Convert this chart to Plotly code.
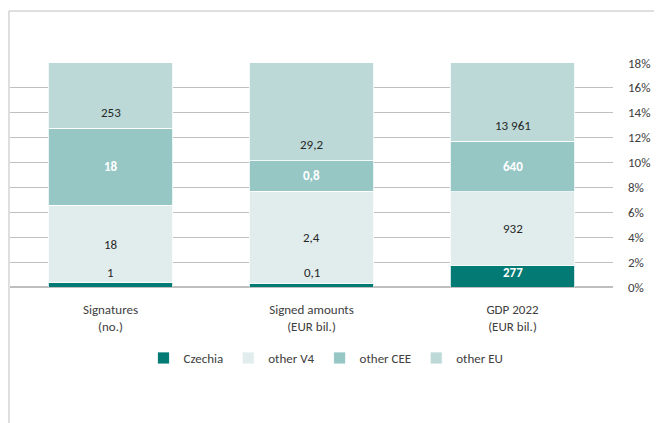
import plotly.graph_objects as go

categories = ["Signatures<br>(no.)", "Signed amounts<br>(EUR bil.)", "GDP 2022<br>(EUR bil.)"]
series_names = ["Czechia", "other V4", "other CEE", "other EU"]
czechia = [1, 0.1, 277]
other_v4 = [18, 2.4, 932]
other_cee = [18, 0.8, 640]
other_eu = [253, 29.2, 13961]
decimals = [0, 1, 0]
y_ticks = [0, 2, 4, 6, 8, 10, 12, 14, 16, 18]
y_tick_labels = [f"{v}%" for v in y_ticks]

colors = ["#047A75", "#E0EDEC", "#96C7C5", "#BDD9D7"]
label_colors = ["#262626", "#262626", "#FFFFFF", "#262626"]
label_bold = [False, False, True, False]

series = [czechia, other_v4, other_cee, other_eu]
totals = [sum(s[i] for s in series) for i in range(len(categories))]
shares = [[s[i] / totals[i] * 100 for i in range(len(categories))] for s in series]

FONT = "Carlito, Lato, Arial"
YMAX = 18


def fmt(v, d):
    if d == 0:
        return f"{int(round(v)):,}".replace(",", " ")
    return f"{v:.{d}f}".replace(".", ",")


fig = go.Figure()
for k, name in enumerate(series_names):
    fig.add_trace(go.Bar(
        x=categories, y=shares[k], name=name,
        marker=dict(color=colors[k], line=dict(color="white", width=0.8)),
        width=0.62, hoverinfo="skip",
    ))

annotations = []
for i in range(len(categories)):
    base = 0
    for k in range(len(series_names)):
        top = base + shares[k][i]
        if k == 0:
            ypos = max((base + top) / 2, 1.15)
            col = "#FFFFFF" if shares[k][i] > 1.2 else "#262626"
            bold = shares[k][i] > 1.2
        elif k == 3:
            ypos = base + 1.3
            col, bold = label_colors[k], label_bold[k]
        else:
            ypos = (base + min(top, YMAX)) / 2
            col, bold = label_colors[k], label_bold[k]
        txt = fmt(series[k][i], decimals[i])
        if bold:
            txt = f"<b>{txt}</b>"
        annotations.append(dict(x=categories[i], y=ypos, text=txt, showarrow=False,
                                font=dict(color=col, size=13, family=FONT),
                                xref="x", yref="y"))
        base = top

fig.update_layout(
    barmode="stack",
    width=654, height=415,
    margin=dict(l=2, r=49, t=55, b=136, autoexpand=False),
    paper_bgcolor="white", plot_bgcolor="white",
    font=dict(family=FONT, size=13, color="#404040"),
    bargap=0.38,
    showlegend=True,
    legend=dict(orientation="h", x=0.524, xanchor="center", y=-0.317, yanchor="middle",
                font=dict(size=13, color="#404040"), itemwidth=30, traceorder="normal"),
    annotations=annotations,
    shapes=[
        dict(type="line", xref="paper", yref="paper", x0=-0.0017, x1=1.09, y0=1.232, y1=1.232,
             line=dict(color="#BFBFBF", width=1)),
        dict(type="line", xref="paper", yref="paper", x0=-0.0017, x1=-0.0017, y0=1.232, y1=-0.61,
             line=dict(color="#BFBFBF", width=1)),
    ],
)
fig.update_xaxes(showgrid=False, showline=False, ticks="", automargin=False,
                 ticklabelstandoff=13, tickfont=dict(size=13, color="#404040"))
fig.update_yaxes(side="right", range=[0, YMAX], tickvals=y_ticks, ticktext=y_tick_labels,
                 showgrid=True, gridcolor="#BFBFBF", gridwidth=1, zeroline=True,
                 zerolinecolor="#BFBFBF", showline=False, ticks="", ticklabelstandoff=14,
                 automargin=False, tickfont=dict(size=13, color="#404040"))

fig.write_html("out.html")
